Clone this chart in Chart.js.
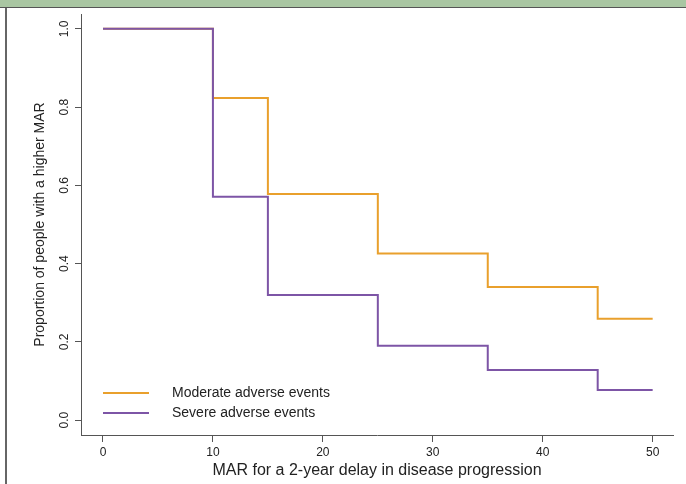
<!DOCTYPE html>
<html><head><meta charset="utf-8">
<script src="https://cdn.jsdelivr.net/npm/chart.js@4.4.0/dist/chart.umd.min.js"></script>
<style>
html,body{margin:0;padding:0;background:#fff;}
#wrap{position:relative;width:686px;height:484px;overflow:hidden;background:#fff;}
#band{position:absolute;left:0;top:0;width:686px;height:7px;background:#a9c6a2;border-bottom:1px solid #555;}
#lborder{position:absolute;left:5px;top:8px;width:2px;height:476px;background:#666;}
canvas{position:absolute;left:0;top:0;}
</style></head><body>
<div id="wrap"><div id="band"></div><div id="lborder"></div><canvas id="c" width="686" height="484"></canvas></div>
<script>
const mar = [0, 10, 15, 25, 35, 45, 50];
const moderate = [1.0, 0.823, 0.578, 0.426, 0.340, 0.259, 0.259];
const severe = [1.0, 0.571, 0.320, 0.190, 0.128, 0.077, 0.077];
const xTicks = [0, 10, 20, 30, 40, 50];
const yTicks = [0, 0.2, 0.4, 0.6, 0.8, 1.0];
const seriesNames = ['Moderate adverse events', 'Severe adverse events'];
const seriesColors = ['#e9a02c', '#7d55a6'];

Chart.defaults.font.family = "'Liberation Sans', Arial, sans-serif";
Chart.defaults.color = '#222';

const toPts = ys => mar.map((x, i) => ({x: x, y: ys[i]}));

const legendPlugin = {
  id: 'insideLegend',
  afterDraw(chart) {
    const ctx = chart.ctx;
    ctx.save();
    chart.data.datasets.forEach((ds, i) => {
      const y = 393 + i * 20;
      ctx.strokeStyle = ds.borderColor;
      ctx.lineWidth = 2;
      ctx.beginPath();
      ctx.moveTo(103, y);
      ctx.lineTo(149, y);
      ctx.stroke();
      ctx.fillStyle = '#222';
      ctx.font = "14px 'Liberation Sans', Arial, sans-serif";
      ctx.textBaseline = 'middle';
      ctx.textAlign = 'left';
      ctx.fillText(ds.label, 172, y);
    });
    ctx.restore();
  }
};

new Chart(document.getElementById('c'), {
  type: 'scatter',
  data: {
    datasets: [
      {label: seriesNames[0], data: toPts(moderate), borderColor: seriesColors[0], backgroundColor: seriesColors[0],
       showLine: true, stepped: 'before', pointRadius: 0, borderWidth: 2, order: 1},
      {label: seriesNames[1], data: toPts(severe), borderColor: seriesColors[1], backgroundColor: seriesColors[1],
       showLine: true, stepped: 'before', pointRadius: 0, borderWidth: 2, order: 0}
    ]
  },
  options: {
    responsive: false,
    animation: false,
    layout: {padding: {left: 0, right: 13, top: 14, bottom: 0}},
    plugins: {legend: {display: false}, tooltip: {enabled: false}},
    scales: {
      x: {
        type: 'linear', min: -2, max: 51.85,
        afterBuildTicks: s => { s.ticks = xTicks.map(v => ({value: v})); },
        afterFit: s => { s.height = 49; },
        ticks: {font: {size: 12}, color: '#222', padding: 3, callback: v => String(v)},
        grid: {drawOnChartArea: false, drawTicks: true, tickLength: 7, color: '#555', lineWidth: 1},
        border: {display: true, color: '#555', width: 1},
        title: {display: true, text: 'MAR for a 2-year delay in disease progression', font: {size: 16}, color: '#222', padding: {top: 0, bottom: 4}}
      },
      y: {
        type: 'linear', min: -0.038, max: 1.038,
        afterBuildTicks: s => { s.ticks = yTicks.map(v => ({value: v})); },
        afterFit: s => { s.width = 81; },
        ticks: {font: {size: 12}, color: '#222', padding: 2, minRotation: 90, maxRotation: 90, crossAlign: 'center',
                callback: v => Number(v).toFixed(1)},
        grid: {drawOnChartArea: false, drawTicks: true, tickLength: 6, color: '#555', lineWidth: 1},
        border: {display: true, color: '#555', width: 1},
        title: {display: true, text: 'Proportion of people with a higher MAR', font: {size: 14}, color: '#222', padding: {top: 32, bottom: 0}}
      }
    }
  },
  plugins: [legendPlugin]
});
</script>
</body></html>
